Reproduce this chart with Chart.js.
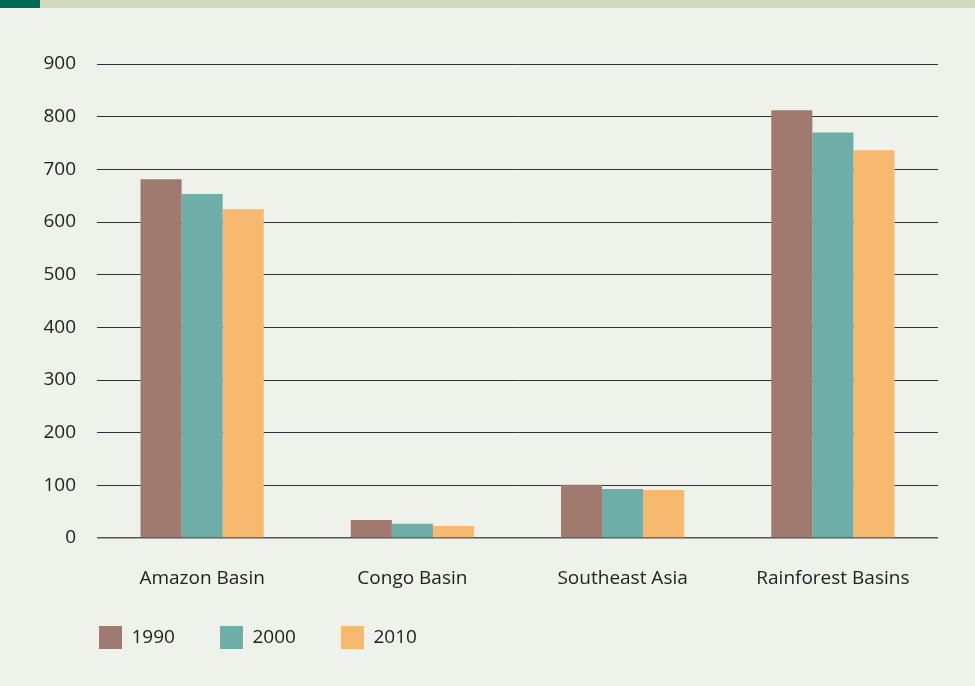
<!DOCTYPE html>
<html>
<head>
<meta charset="utf-8">
<script src="https://cdn.jsdelivr.net/npm/chart.js@4"></script>
<style>
  html, body { margin: 0; padding: 0; background: #eff2ea; }
  #wrap { position: relative; width: 975px; height: 686px; overflow: hidden; }
  #strip { position: absolute; top: 0; left: 0; width: 975px; height: 8px; background: #d0dbbf; }
  #strip div { width: 40px; height: 8px; background: #006957; }
  canvas { position: absolute; top: 0; left: 0; }
</style>
</head>
<body>
<div id="wrap">
  <div id="strip"><div></div></div>
  <canvas id="chart" width="975" height="686"></canvas>
</div>
<script>
// regions and values
const regions = ['Amazon Basin', 'Congo Basin', 'Southeast Asia', 'Rainforest Basins'];
const years = ['1990', '2000', '2010'];
const values1990 = [681, 34, 101, 812];
const values2000 = [653, 27, 93, 770];
const values2010 = [624, 23, 91, 736];
const colors = ['#a07a6e', '#6fada8', '#f7b870'];

const font = { family: "'Open Sans', 'Noto Sans', sans-serif", size: 19 };

const data = {
  labels: regions,
  datasets: [values1990, values2000, values2010].map((v, i) => ({
    label: years[i],
    data: v,
    backgroundColor: colors[i],
    borderWidth: 0,
    barPercentage: 1,
    categoryPercentage: 0.586
  }))
};

// the legend starts under the plot, not at the canvas edge, and sits a bit higher
const shiftLegend = {
  id: 'shiftLegend',
  afterLayout(chart) {
    const lg = chart.legend;
    lg.left += 54;
    lg.right += 54;
    lg.top -= 19;
    lg.bottom -= 19;
  }
};

const config = {
  type: 'bar',
  data: data,
  plugins: [shiftLegend],
  options: {
    responsive: false,
    animation: false,
    layout: { padding: { top: 64, left: 0, right: 37, bottom: 8 } },
    plugins: {
      tooltip: { enabled: false },
      legend: {
        position: 'bottom',
        align: 'start',
        labels: {
          boxWidth: 23,
          boxHeight: 23,
          padding: 45,
          color: '#222',
          font: font
        }
      }
    },
    scales: {
      x: {
        grid: { display: false, drawTicks: false },
        border: { display: false },
        ticks: { color: '#222', font: font, padding: 29 },
        afterFit: s => { s.height = 62; }
      },
      y: {
        min: 0,
        max: 900,
        grid: {
          drawTicks: false,
          color: c => c.tick.value === 0 ? '#555' : '#333',
          lineWidth: c => c.tick.value === 0 ? 1.6 : 1
        },
        border: { display: false },
        ticks: { stepSize: 100, color: '#222', font: font, padding: 21 },
        afterFit: s => { s.width = 97; }
      }
    }
  }
};

const ctx = document.getElementById('chart');
const myChart = new Chart(ctx, config);
</script>
</body>
</html>
